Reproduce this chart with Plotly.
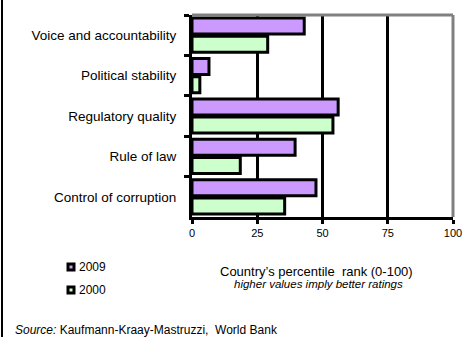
import plotly.graph_objects as go

# Governance indicators, percentile rank (0-100)
categories = [
    "Voice and accountability",
    "Political stability",
    "Regulatory quality",
    "Rule of law",
    "Control of corruption",
]
rank_2009 = [43, 6.5, 56, 39.5, 47.5]
rank_2000 = [29, 3, 54, 18.5, 35.5]
x_ticks = [0, 25, 50, 75, 100]

series = [
    ("2009", rank_2009, "#cc99ff"),
    ("2000", rank_2000, "#ccffcc"),
]

W, H = 464, 337
ML, MR, MT, MB = 192, 11, 15, 120
PW, PH = W - ML - MR, H - MT - MB

def px_x(x):
    return (x - ML) / PW

def px_y(y):
    return (H - MB - y) / PH

FONT = "Arial, Liberation Sans, sans-serif"

fig = go.Figure()
for name, values, color in series:
    fig.add_trace(go.Bar(
        y=categories, x=values, name=name, orientation="h",
        marker=dict(color=color, line=dict(color="black", width=3)),
        showlegend=False,
    ))

fig.update_layout(
    width=W, height=H,
    margin=dict(l=ML, r=MR, t=MT, b=MB, autoexpand=False),
    paper_bgcolor="white", plot_bgcolor="white",
    barmode="group", bargap=0.1, bargroupgap=0.12,
    font=dict(family=FONT, size=12, color="black"),
    xaxis=dict(
        range=[0, 100], tickvals=x_ticks, ticktext=[str(v) for v in x_ticks],
        showgrid=True, gridcolor="black", gridwidth=3,
        zeroline=False, showline=True, linecolor="black", linewidth=3,
        ticks="outside", ticklen=4, tickwidth=3, tickcolor="black",
        tickfont=dict(size=11), fixedrange=True, automargin=False,
    ),
    yaxis=dict(
        categoryorder="array", categoryarray=categories, autorange="reversed",
        showline=True, linecolor="black", linewidth=3,
        ticks="outside", tickson="boundaries", ticklen=5, tickwidth=3,
        tickcolor="black", showgrid=False, tickfont=dict(size=13.5),
        ticklabelstandoff=10, fixedrange=True, automargin=False,
    ),
)

# Grey frame along the top and right of the plotting area
fig.add_shape(type="line", xref="paper", yref="paper", x0=0, x1=1, y0=1, y1=1,
              line=dict(color="#808080", width=3), layer="above")
fig.add_shape(type="line", xref="paper", yref="paper", x0=1, x1=1, y0=0, y1=1,
              line=dict(color="#808080", width=3), layer="above")

# Slide frame on the left edge
fig.add_shape(type="line", xref="paper", yref="paper",
              x0=px_x(2), x1=px_x(2), y0=px_y(H), y1=px_y(0),
              line=dict(color="black", width=2))

# Legend: small outlined swatches with the year beside them
for i, (name, _, color) in enumerate(series):
    cy = 267 + i * 23
    fig.add_shape(type="rect", xref="paper", yref="paper",
                  x0=px_x(68), x1=px_x(74), y0=px_y(cy + 3), y1=px_y(cy - 3),
                  fillcolor=color, line=dict(color="black", width=3))
    fig.add_annotation(text=name, xref="paper", yref="paper",
                       x=px_x(77), y=px_y(cy), showarrow=False,
                       font=dict(size=12), xanchor="left", yanchor="middle")

fig.add_annotation(text="Country\u2019s percentile  rank (0-100)",
                   xref="paper", yref="paper", x=px_x(316), y=px_y(271),
                   showarrow=False, font=dict(size=13), xanchor="center", yanchor="middle")
fig.add_annotation(text="<i>higher values imply better ratings</i>",
                   xref="paper", yref="paper", x=px_x(318), y=px_y(284),
                   showarrow=False, font=dict(size=11.5), xanchor="center", yanchor="middle")
fig.add_annotation(text="<i>Source:</i> Kaufmann-Kraay-Mastruzzi,  World Bank",
                   xref="paper", yref="paper", x=px_x(13), y=px_y(330),
                   showarrow=False, font=dict(size=12), xanchor="left", yanchor="middle")

fig.write_html("out.html")
